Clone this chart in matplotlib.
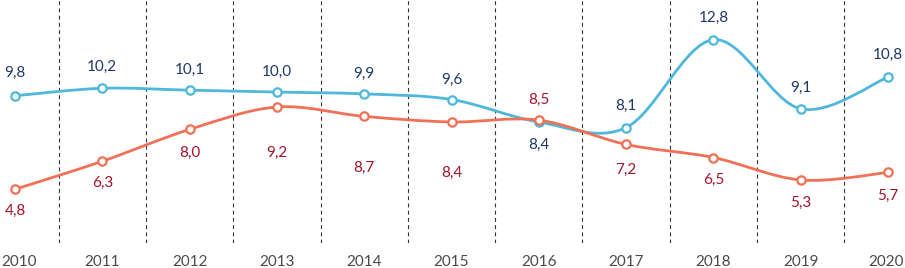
import numpy as np
import matplotlib.pyplot as plt
from matplotlib.path import Path
from matplotlib.patches import PathPatch

years = [2010, 2011, 2012, 2013, 2014, 2015, 2016, 2017, 2018, 2019, 2020]
blue_vals = [9.8, 10.2, 10.1, 10.0, 9.9, 9.6, 8.4, 8.1, 12.8, 9.1, 10.8]
red_vals = [4.8, 6.3, 8.0, 9.2, 8.7, 8.4, 8.5, 7.2, 6.5, 5.3, 5.7]

# label offsets in pixels (positive = below the point)
blue_off = [-23, -21, -20, -20, -20, -20, 23, -22, -22, -21, -22]
red_off = [22, 22, 23, 46, 52, 51, -20, 25, 22, 23, 23]

BLUE = "#4db8dc"
RED = "#f07155"
BLUE_TXT = "#1f3864"
RED_TXT = "#a3122b"

plt.rcParams["font.family"] = ["Lato", "DejaVu Sans"]


def smooth_path(xs, ys):
    # Excel-like smoothed line: cubic Bezier with Catmull-Rom control points
    pts = np.column_stack([xs, ys]).astype(float)
    n = len(pts)
    verts = [pts[0]]
    codes = [Path.MOVETO]
    for i in range(n - 1):
        p0 = pts[max(i - 1, 0)]
        p1 = pts[i]
        p2 = pts[i + 1]
        p3 = pts[min(i + 2, n - 1)]
        c1 = p1 + (p2 - p0) / 6.0
        c2 = p2 - (p3 - p1) / 6.0
        verts += [c1, c2, p2]
        codes += [Path.CURVE4] * 3
    return Path(verts, codes)


fig = plt.figure(figsize=(9.05, 2.68), dpi=100)
ax = fig.add_axes([0, (268 - 243) / 268, 1, 243 / 268])

ax.set_xlim(2010 - 15 / 87.3, 2020 + 17 / 87.3)
ax.set_ylim(1.93, 14.92)
ax.axis("off")

for i in range(len(years) - 1):
    xm = (years[i] + years[i + 1]) / 2
    ax.axvline(xm, color="#333333", linewidth=0.8, linestyle=(0, (3.5, 3)), zorder=1)

for vals, col, z in [(blue_vals, BLUE, 2), (red_vals, RED, 3)]:
    ax.add_patch(PathPatch(smooth_path(years, vals), facecolor="none",
                           edgecolor=col, linewidth=2.0, zorder=z,
                           capstyle="round", joinstyle="round"))
    ax.plot(years, vals, linestyle="none", marker="o", markersize=6,
            markerfacecolor="white", markeredgecolor=col,
            markeredgewidth=1.6, zorder=z + 0.5)

for x, v, off in zip(years, blue_vals, blue_off):
    ax.annotate(f"{v:.1f}".replace(".", ","), (x, v), xytext=(0, -off),
                textcoords="offset pixels", ha="center", va="center",
                fontsize=11, color=BLUE_TXT, annotation_clip=False)

for x, v, off in zip(years, red_vals, red_off):
    ax.annotate(f"{v:.1f}".replace(".", ","), (x, v), xytext=(0, -off),
                textcoords="offset pixels", ha="center", va="center",
                fontsize=11, color=RED_TXT, annotation_clip=False)

# year labels along the bottom; first and last kept inside the figure
for i, x in enumerate(years):
    ha = "center"
    dx = 0
    if i == 0:
        ha, dx = "left", -14
    elif i == len(years) - 1:
        ha, dx = "right", 16
    ax.annotate(str(x), (x, 1.93), xytext=(dx, -19), textcoords="offset pixels",
                ha=ha, va="center", fontsize=11, color="#4a4a4a",
                annotation_clip=False)

fig.savefig("out.png", dpi=100)
